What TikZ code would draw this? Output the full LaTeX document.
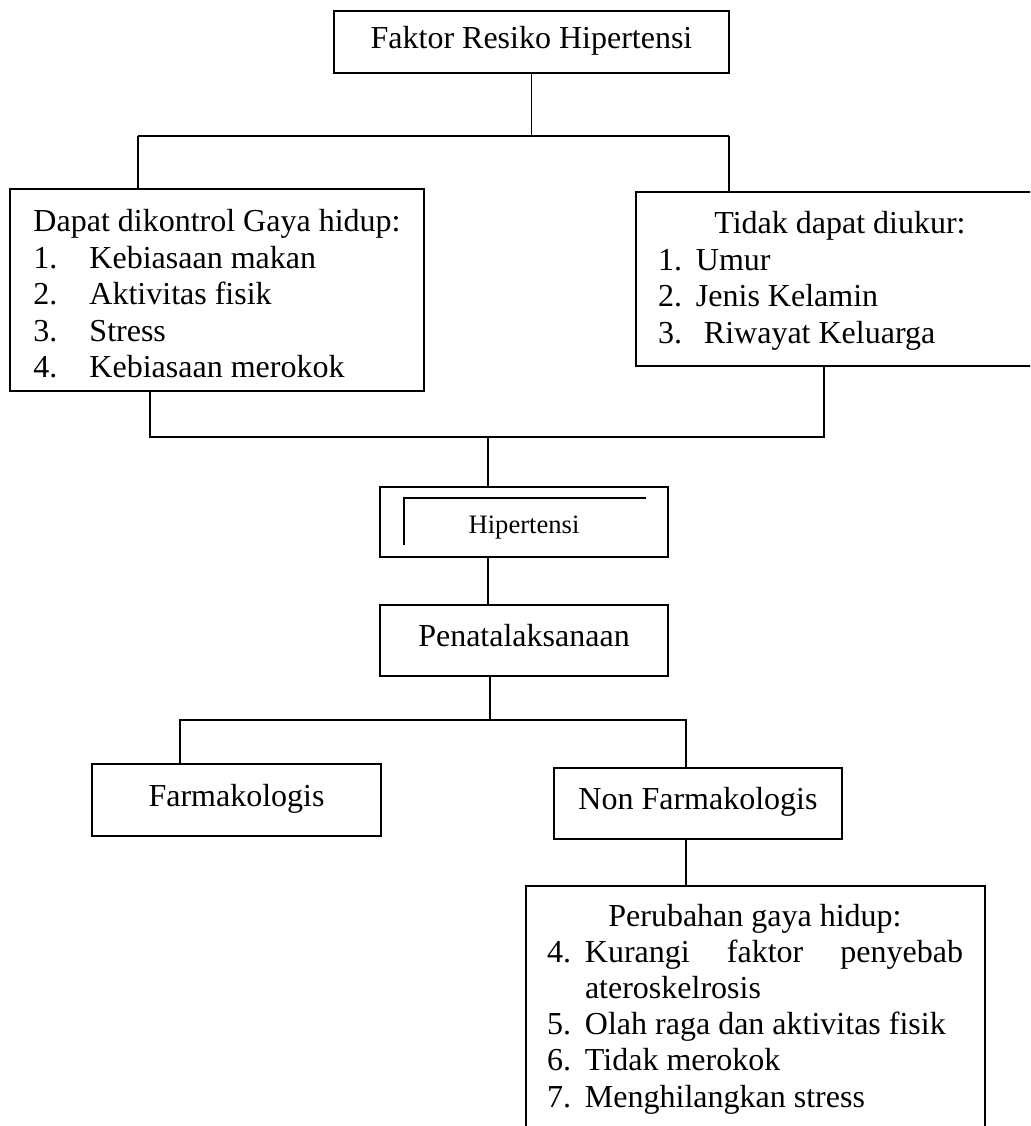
\documentclass[tikz,border=0pt]{standalone}
\usepackage{fontspec}
\setmainfont{Liberation Serif}
\begin{document}
\begin{tikzpicture}[x=0.5pt, y=-0.5pt]

\tikzstyle{box1}=[rectangle, draw, line width=1pt, inner sep=0pt, text height=11pt, text depth=5pt, font=\fontsize{16pt}{18.25pt}\selectfont]
\tikzstyle{box3}=[rectangle, draw, line width=1pt, inner sep=0pt, align=left, font=\fontsize{16pt}{18.25pt}\selectfont]
\tikzstyle{line}=[line width=0.8pt]

\useasboundingbox (0,0) rectangle (1030,1126);
\clip (0,0) rectangle (1030,1126);

\node (A) [box1, minimum width=197.5pt, minimum height=31pt] at (531.5,42) {Faktor Resiko Hipertensi};

\node (B) [box3, minimum width=207pt, minimum height=101pt] at (217,290) {\rule{0pt}{15pt}Dapat dikontrol Gaya hidup:\\ \makebox[28pt][l]{1.}Kebiasaan makan\\ \makebox[28pt][l]{2.}Aktivitas fisik\\ \makebox[28pt][l]{3.}Stress\\ \makebox[28pt][l]{4.}Kebiasaan merokok};

\node (C) [box3, minimum width=204.5pt, minimum height=87pt] at (840,279) {\rule{0pt}{13pt}\makebox[182pt]{Tidak dapat diukur:}\\ \makebox[19pt][l]{1.}Umur\\ \makebox[19pt][l]{2.}Jenis Kelamin\\ \makebox[19pt][l]{3.}\hspace{4pt}Riwayat Keluarga};

\node (D) [box1, minimum width=144pt, minimum height=35pt, text height=13pt, text depth=2pt, font=\fontsize{13.3pt}{16pt}\selectfont] at (524,522) {Hipertensi};

\node (E) [box1, minimum width=144pt, minimum height=35.5pt] at (524,640.5) {Penatalaksanaan};

\node (F) [box1, minimum width=144.5pt, minimum height=36pt] at (236.5,800) {Farmakologis};

\node (G) [box1, minimum width=144pt, minimum height=35.5pt] at (698,803.5) {Non Farmakologis};

\node (H) [box3, minimum width=229.5pt, minimum height=123pt, font=\fontsize{16pt}{18.1pt}\selectfont] at (755,1009) {\makebox[208pt]{Perubahan gaya hidup:}\\ \makebox[19pt][l]{4.}\makebox[189pt][s]{Kurangi faktor penyebab}\\ \hspace*{19pt}ateroskelrosis\\ \makebox[19pt][l]{5.}Olah raga dan aktivitas fisik\\ \makebox[19pt][l]{6.}Tidak merokok\\ \makebox[19pt][l]{7.}Menghilangkan stress};

\coordinate (ab1) at (138,136);
\coordinate (ab2) at (729,136);
\coordinate (bc1) at (150,437);
\coordinate (bc2) at (824,437);
\coordinate (bc3) at (488,437);
\coordinate (fg1) at (180,720);
\coordinate (fg2) at (686,720);
\coordinate (fg3) at (490,720);

\draw [line] (A) -- (A |- ab1);
\draw [line] (ab1) -- (ab2);
\draw [line] (ab1) -- (ab1 |- B.north);
\draw [line] (ab2) -- (ab2 |- C.north);

\draw [line] (bc1 |- B.south) -- (bc1) -- (bc2) -- (bc2 |- C.south);
\draw [line] (bc3) -- (bc3 |- D.north);
\draw [line] ([shift={(25,59)}]D.north west) -- ++(0,-47) -- ++(242,0);
\draw [line] (bc3 |- D.south) -- (bc3 |- E.north);

\draw [line] (fg3 |- E.south) -- (fg3);
\draw [line] (fg1 |- F.north) -- (fg1) -- (fg2) -- (fg2 |- G.north);
\draw [line] (fg2 |- G.south) -- (fg2 |- H.north);

\end{tikzpicture}
\end{document}
